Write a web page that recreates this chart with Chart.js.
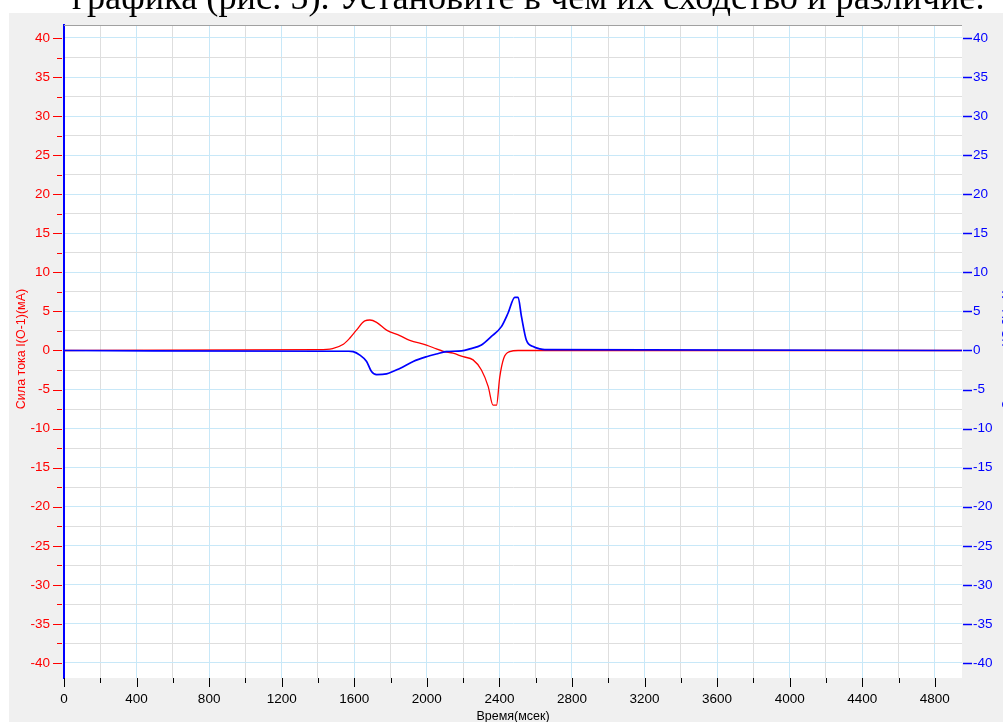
<!DOCTYPE html>
<html>
<head>
<meta charset="utf-8">
<script src="https://cdn.jsdelivr.net/npm/chart.js@4.4.0/dist/chart.umd.min.js"></script>
<style>
  body { margin: 0; background: #fff; width: 1003px; height: 722px; overflow: hidden; position: relative; }
  #caption { position: absolute; left: 72px; top: 0; font-family: "Liberation Serif", "Times New Roman", serif; white-space: nowrap; color: #000; line-height: 1; font-size: 100px; }
  #box { position: absolute; left: 9px; top: 13px; width: 994px; height: 709px; background: #f0f0f0; }
</style>
</head>
<body>
<div id="box"><canvas id="chart" width="994" height="709"></canvas></div>
<div id="caption">графика (рис. 5). Установите в чем их сходство и различие.</div>
<script>
// current I(O-1), red trace
var redTime    = [0, 1400, 1480, 1540, 1576, 1612, 1658, 1686, 1723, 1778, 1851, 1906, 1998, 2053, 2090, 2145, 2200, 2255, 2301, 2338, 2365, 2384, 2402, 2424, 2457, 2503, 4950];
var redCurrent = [0, 0.1, 0.25, 0.8, 1.6, 2.6, 3.8, 3.9, 3.6, 2.6, 1.9, 1.3, 0.7, 0.2, -0.1, -0.35, -0.8, -1.2, -2.5, -4.6, -7.0, -7.0, -3.4, -1.0, -0.15, 0, 0];

// second trace, blue
var blueTime    = [0, 1480, 1570, 1594, 1631, 1668, 1695, 1723, 1778, 1851, 1925, 1998, 2053, 2108, 2191, 2237, 2301, 2356, 2411, 2448, 2485, 2503, 2522, 2549, 2586, 2623, 2650, 4950];
var blueCurrent = [0, -0.1, -0.1, -0.15, -0.6, -1.4, -2.7, -3.1, -3.0, -2.3, -1.4, -0.8, -0.45, -0.15, -0.05, 0.2, 0.7, 1.8, 3.05, 4.8, 6.8, 6.8, 4.3, 1.3, 0.5, 0.2, 0.1, 0];

// axis ticks
var timeTicks = [0, 200, 400, 600, 800, 1000, 1200, 1400, 1600, 1800, 2000, 2200, 2400, 2600, 2800, 3000, 3200, 3400, 3600, 3800, 4000, 4200, 4400, 4600, 4800];
var currentTicks = [-40, -37.5, -35, -32.5, -30, -27.5, -25, -22.5, -20, -17.5, -15, -12.5, -10, -7.5, -5, -2.5, 0, 2.5, 5, 7.5, 10, 12.5, 15, 17.5, 20, 22.5, 25, 27.5, 30, 32.5, 35, 37.5, 40];

var leftTitle = 'Сила тока I(О-1)(мА)';
var rightTitle = 'Сила тока I(О-2)(мА)';
var bottomTitle = 'Время(мсек)';

// fit the cut-off caption line to its width
var cap = document.getElementById('caption');
var size = 913 * 100 / cap.offsetWidth;
cap.style.fontSize = size + 'px';
cap.style.top = (9 - size * 0.8375) + 'px';

function isMajor(v, step) {
    return Math.abs(v / step - Math.round(v / step)) < 1e-6;
}

function toPoints(xs, ys) {
    var pts = [];
    for (var i = 0; i < xs.length; i++) {
        pts.push({ x: xs[i], y: ys[i] });
    }
    return pts;
}

function noPad(scale) {
    scale.paddingTop = 0;
    scale.paddingBottom = 0;
    scale.paddingLeft = 0;
    scale.paddingRight = 0;
}

var sans = '"Liberation Sans", Arial, sans-serif';

var axisMarks = {
    id: 'axisMarks',
    beforeDraw: function (chart) {
        var a = chart.chartArea, ctx = chart.ctx;
        ctx.save();
        ctx.fillStyle = '#ffffff';
        ctx.fillRect(a.left, a.top, a.right - a.left, a.bottom - a.top);
        ctx.restore();
    },
    afterDraw: function (chart) {
        var a = chart.chartArea, ctx = chart.ctx, s = chart.scales;
        ctx.save();
        // top border
        ctx.strokeStyle = '#a0a0a0';
        ctx.lineWidth = 1;
        ctx.beginPath();
        ctx.moveTo(a.left, a.top + 0.5);
        ctx.lineTo(a.right, a.top + 0.5);
        ctx.stroke();
        // time tick marks
        ctx.strokeStyle = '#000';
        timeTicks.forEach(function (v) {
            var px = Math.round(s.x.getPixelForValue(v)) + 0.5;
            var len = isMajor(v, 400) ? 9 : 5;
            ctx.beginPath();
            ctx.moveTo(px, a.bottom);
            ctx.lineTo(px, a.bottom + len);
            ctx.stroke();
        });
        // left tick marks
        ctx.strokeStyle = '#ff0000';
        currentTicks.forEach(function (v) {
            var py = Math.round(s.y.getPixelForValue(v)) + 0.5;
            var len = isMajor(v, 5) ? 9 : 5;
            ctx.beginPath();
            ctx.moveTo(a.left - 2 - len, py);
            ctx.lineTo(a.left - 2, py);
            ctx.stroke();
        });
        // right tick marks
        ctx.strokeStyle = '#0000ff';
        ctx.lineWidth = 1.5;
        currentTicks.forEach(function (v) {
            if (!isMajor(v, 5)) return;
            var py = Math.round(s.y2.getPixelForValue(v)) + 0.5;
            ctx.beginPath();
            ctx.moveTo(a.right + 1, py);
            ctx.lineTo(a.right + 10, py);
            ctx.stroke();
        });
        // axis titles
        ctx.font = '12.5px ' + sans;
        ctx.textAlign = 'center';
        ctx.textBaseline = 'middle';
        ctx.fillStyle = '#ff0000';
        ctx.save();
        ctx.translate(13, 336);
        ctx.rotate(-Math.PI / 2);
        ctx.fillText(leftTitle, 0, 0);
        ctx.restore();
        ctx.fillStyle = '#0000ff';
        ctx.save();
        ctx.translate(998.5, 336);
        ctx.rotate(-Math.PI / 2);
        ctx.fillText(rightTitle, 0, 0);
        ctx.restore();
        ctx.fillStyle = '#000';
        ctx.fillText(bottomTitle, (a.left + a.right) / 2, 704);
        ctx.restore();
    }
};

var ctx = document.getElementById('chart');
var chart = new Chart(ctx, {
    type: 'line',
    data: {
        datasets: [{
            label: 'I2',
            data: toPoints(blueTime, blueCurrent),
            borderColor: '#0000ff',
            borderWidth: 1.7,
            pointRadius: 0,
            cubicInterpolationMode: 'monotone',
            yAxisID: 'y2'
        }, {
            label: 'I1',
            data: toPoints(redTime, redCurrent),
            borderColor: '#ff0000',
            borderWidth: 1.3,
            pointRadius: 0,
            cubicInterpolationMode: 'monotone',
            yAxisID: 'y'
        }]
    },
    options: {
        responsive: false,
        animation: false,
        events: [],
        layout: { padding: { top: 12, left: 0, right: 0, bottom: 0 } },
        plugins: { legend: { display: false }, tooltip: { enabled: false } },
        scales: {
            x: {
                type: 'linear',
                position: 'bottom',
                min: 0,
                max: 4950,
                bounds: 'data',
                afterBuildTicks: function (scale) {
                    scale.ticks = timeTicks.map(function (v) { return { value: v }; });
                },
                afterFit: function (scale) { scale.height = 44; noPad(scale); },
                border: { display: false },
                grid: {
                    drawTicks: false,
                    color: function (c) { return isMajor(c.tick.value, 400) ? '#c8e8f8' : '#dedede'; }
                },
                ticks: {
                    autoSkip: false,
                    maxRotation: 0,
                    padding: 13,
                    color: '#000',
                    font: { family: sans, size: 13.5 },
                    callback: function (v) { return isMajor(v, 400) ? String(v) : ''; }
                }
            },
            y: {
                type: 'linear',
                position: 'left',
                min: -41.92,
                max: 41.66,
                bounds: 'data',
                afterBuildTicks: function (scale) {
                    scale.ticks = currentTicks.map(function (v) { return { value: v }; });
                },
                afterFit: function (scale) { scale.width = 55; noPad(scale); },
                border: { display: true, color: '#0000ff', width: 2 },
                grid: {
                    drawTicks: false,
                    color: function (c) { return isMajor(c.tick.value, 5) ? '#c8e8f8' : '#dedede'; }
                },
                ticks: {
                    autoSkip: false,
                    padding: 14,
                    color: '#ff0000',
                    font: { family: sans, size: 13.5 },
                    callback: function (v) { return isMajor(v, 5) ? String(v) : ''; }
                }
            },
            y2: {
                type: 'linear',
                position: 'right',
                min: -41.92,
                max: 41.66,
                bounds: 'data',
                afterBuildTicks: function (scale) {
                    scale.ticks = currentTicks.filter(function (v) { return isMajor(v, 5); })
                        .map(function (v) { return { value: v }; });
                },
                afterFit: function (scale) { scale.width = 41; noPad(scale); },
                border: { display: false },
                grid: { display: false, drawTicks: false },
                ticks: {
                    autoSkip: false,
                    padding: 11,
                    color: '#0000ff',
                    font: { family: sans, size: 13.5 },
                    callback: function (v) { return String(v); }
                }
            }
        }
    },
    plugins: [axisMarks]
});
</script>
</body>
</html>
